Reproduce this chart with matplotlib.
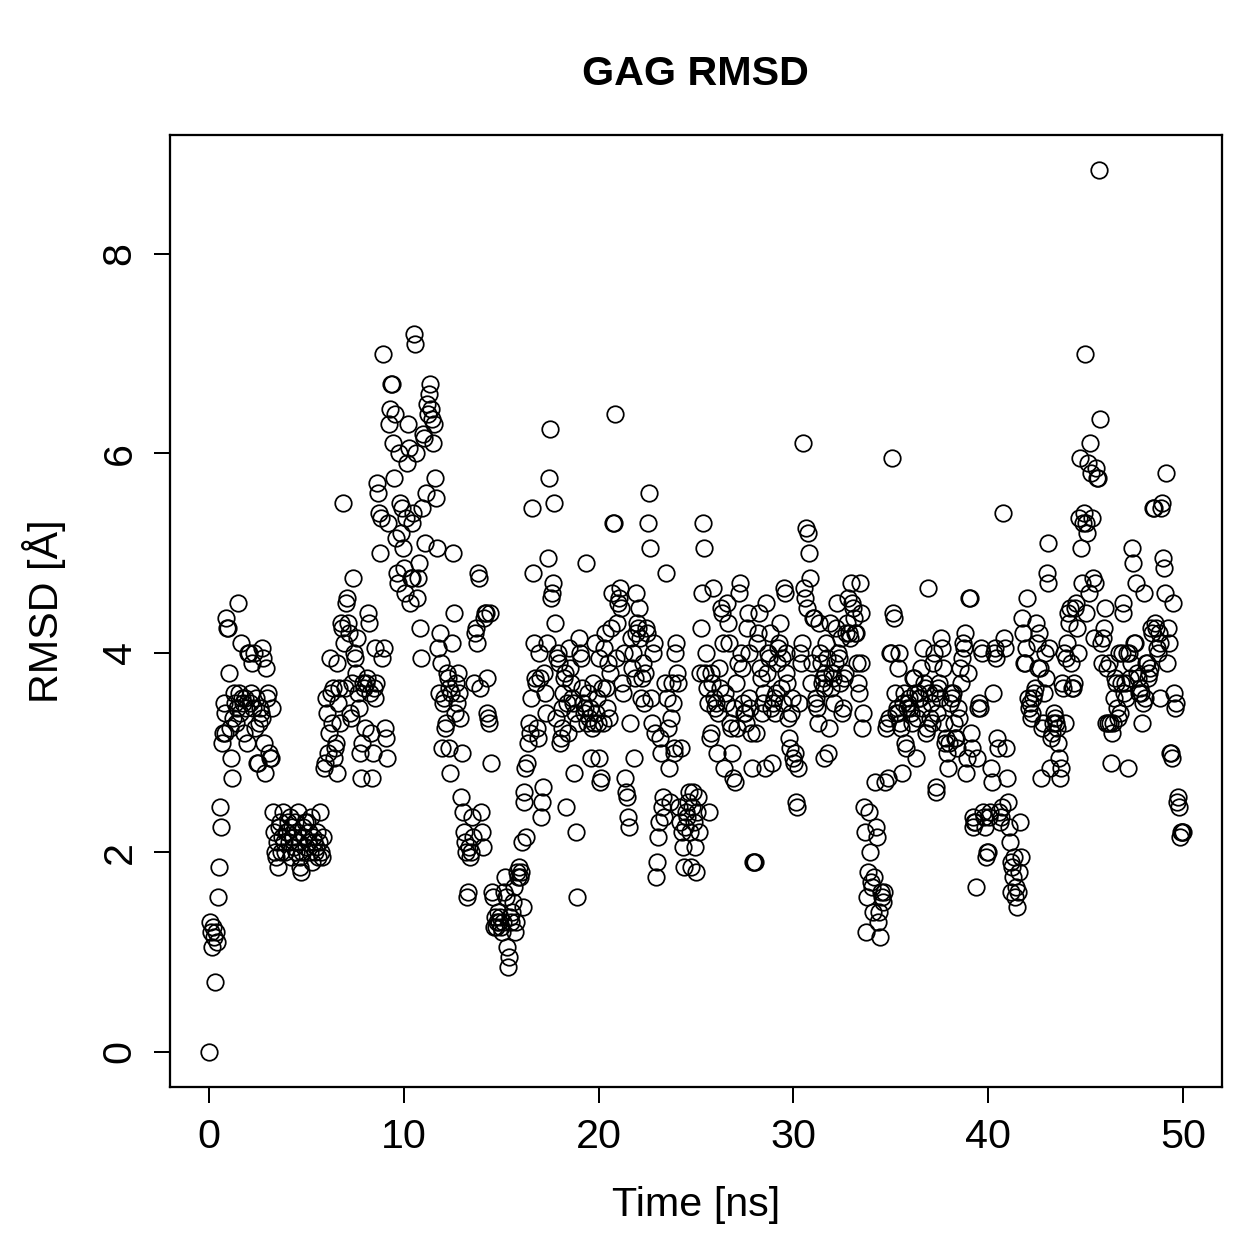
import numpy as np
import matplotlib.pyplot as plt

plt.rcParams['font.family'] = ['Liberation Sans', 'DejaVu Sans']

# RMSD values (Angstrom), one frame every 0.05 ns, grouped by 1 ns
rmsd_0_10 = [
    0.0, 1.3, 1.2, 1.05, 1.25, 1.15, 0.7, 1.2, 1.1, 1.55, 1.85, 2.45, 2.25, 3.1, 3.2, 3.5, 3.2, 3.4, 4.35, 4.25,
    4.25, 3.8, 3.25, 2.95, 2.75, 3.35, 3.6, 3.5, 3.3, 3.45, 4.5, 3.6, 3.4, 4.1, 3.55, 3.5, 3.2, 3.55, 3.45, 3.1,
    4.0, 4.0, 3.5, 3.6, 3.9, 3.45, 4.0, 3.25, 3.55, 2.9, 2.9, 3.3, 3.45, 3.4, 4.05, 3.35, 3.95, 3.1, 2.8, 3.85,
    3.55, 3.6, 3.0, 2.95, 2.95, 3.45, 2.4, 2.2, 2.0, 1.95, 2.1, 1.85, 2.25, 2.3, 2.0, 2.15, 2.4, 2.1, 2.0, 2.2,
    2.2, 2.3, 2.1, 2.35, 1.95, 2.25, 2.15, 2.05, 2.3, 2.0, 2.2, 2.4, 2.1, 1.85, 1.95, 1.8, 2.0, 2.25, 2.15, 2.3,
    2.05, 2.3, 2.1, 2.2, 2.0, 2.35, 1.9, 2.15, 2.1, 2.0, 2.05, 2.2, 1.95, 2.1, 2.4, 2.0, 1.95, 2.15, 2.85, 2.9,
    3.55, 3.4, 3.0, 3.2, 3.95, 3.6, 3.3, 3.65, 2.95, 3.05, 3.1, 2.8, 3.9, 3.5, 3.65, 3.3, 4.3, 4.25, 5.5, 4.1,
    3.65, 4.5, 4.55, 4.3, 4.2, 3.4, 3.35, 3.7, 4.75, 4.0, 3.95, 3.8, 4.15, 3.6, 3.45, 3.0, 2.75, 3.1, 3.7, 3.65,
    3.25, 3.7, 3.75, 4.4, 4.3, 3.6, 3.2, 2.75, 3.0, 3.65, 3.55, 4.05, 3.7, 5.7, 5.6, 5.4, 5.0, 5.35, 3.95, 7.0,
    4.05, 3.25, 3.15, 2.95, 5.3, 6.3, 6.45, 6.7, 6.7, 6.1, 5.75, 6.4, 5.15, 4.8, 4.7, 6.0, 5.5, 5.2, 5.45, 5.05,
]
rmsd_10_20 = [
    4.85, 4.6, 5.35, 5.9, 6.3, 6.05, 4.5, 4.75, 4.75, 5.3, 5.4, 7.2, 7.1, 6.0, 4.55, 4.75, 4.9, 4.25, 3.95, 5.45,
    6.2, 6.15, 5.1, 5.6, 6.5, 6.4, 6.6, 6.7, 6.45, 6.35, 6.1, 6.3, 5.75, 5.55, 5.05, 4.05, 3.6, 4.2, 3.9, 3.05,
    3.5, 3.55, 3.25, 3.3, 3.8, 3.75, 3.65, 3.05, 2.8, 3.6, 4.1, 5.0, 4.4, 3.4, 3.7, 3.5, 3.8, 3.6, 3.35, 2.55,
    3.0, 2.4, 2.2, 2.1, 2.0, 1.55, 1.6, 2.05, 1.95, 2.0, 2.35, 2.15, 3.7, 4.2, 4.25, 4.1, 4.8, 4.75, 3.65, 2.4,
    2.2, 2.05, 4.35, 4.4, 4.4, 3.75, 3.4, 3.35, 3.3, 4.4, 2.9, 1.6, 1.55, 1.25, 1.35, 1.25, 1.3, 1.4, 1.3, 1.35,
    1.25, 1.2, 1.3, 1.6, 1.75, 1.55, 1.05, 0.85, 0.95, 1.35, 1.3, 1.4, 1.5, 1.65, 1.2, 1.3, 1.8, 1.75, 1.85, 1.75,
    1.8, 2.1, 1.45, 2.5, 2.6, 2.85, 2.15, 2.9, 3.1, 3.3, 3.2, 3.55, 5.45, 4.8, 4.1, 3.75, 3.7, 3.25, 3.15, 4.0,
    3.75, 2.35, 2.5, 2.65, 3.8, 3.6, 3.4, 4.1, 4.95, 5.75, 6.25, 4.55, 4.6, 4.7, 5.5, 4.3, 3.35, 3.95, 4.0, 3.9,
    3.1, 3.15, 3.45, 3.25, 3.6, 3.75, 3.8, 2.45, 3.5, 3.2, 4.05, 3.85, 3.7, 3.55, 3.5, 2.8, 3.4, 2.2, 1.55, 3.3,
    4.15, 4.0, 3.95, 3.65, 3.5, 3.4, 3.45, 4.9, 3.3, 3.6, 3.35, 3.45, 2.95, 3.25, 3.7, 3.3, 4.1, 3.4, 3.55, 3.3,
]
rmsd_20_30 = [
    2.95, 3.95, 2.7, 2.75, 3.65, 3.3, 4.05, 4.2, 3.65, 3.45, 3.9, 3.35, 3.8, 4.25, 4.6, 5.3, 5.3, 6.4, 3.95, 4.3,
    4.5, 4.55, 4.65, 4.45, 3.7, 3.6, 4.0, 2.75, 2.6, 2.55, 2.35, 2.25, 3.3, 4.15, 3.85, 4.0, 2.95, 3.75, 4.2, 4.6,
    4.3, 4.25, 4.45, 4.15, 3.55, 3.75, 3.9, 3.5, 3.8, 4.25, 4.2, 5.3, 5.6, 5.05, 3.55, 3.3, 4.0, 4.1, 3.2, 1.75,
    1.9, 2.15, 2.3, 3.15, 3.0, 2.45, 2.55, 2.35, 3.7, 4.8, 3.55, 3.25, 2.85, 2.5, 3.35, 3.7, 3.5, 3.05, 3.0, 4.0,
    4.1, 3.8, 3.7, 2.45, 2.3, 3.05, 2.2, 2.05, 1.85, 2.25, 2.4, 2.35, 2.5, 2.6, 2.2, 1.85, 2.45, 2.6, 2.3, 2.05,
    1.8, 2.4, 2.55, 2.2, 3.8, 4.25, 4.6, 5.3, 5.05, 3.8, 4.0, 3.65, 3.5, 2.4, 3.15, 3.2, 3.8, 3.7, 4.65, 3.55,
    3.45, 3.5, 3.0, 3.4, 3.85, 3.65, 4.45, 4.4, 4.1, 2.85, 3.6, 3.5, 4.5, 4.3, 4.1, 3.3, 3.25, 3.0, 2.75, 3.45,
    2.7, 3.7, 3.25, 3.9, 4.6, 4.7, 4.0, 3.85, 3.5, 3.4, 3.4, 3.3, 4.25, 4.4, 4.0, 3.55, 3.45, 3.2, 2.85, 1.9,
    1.9, 1.9, 3.2, 4.1, 4.2, 4.4, 3.85, 3.75, 3.4, 3.5, 3.6, 2.85, 4.5, 3.8, 4.0, 3.95, 4.2, 3.45, 2.9, 3.5,
    3.55, 3.4, 3.6, 3.9, 4.05, 4.1, 4.3, 3.65, 3.95, 3.5, 4.65, 4.6, 4.0, 3.8, 3.7, 3.35, 3.15, 3.05, 3.4, 3.55,
]
rmsd_30_40 = [
    2.95, 2.9, 3.0, 2.5, 2.45, 2.85, 3.5, 4.0, 3.9, 4.1, 6.1, 4.65, 4.55, 5.25, 4.45, 5.2, 5.0, 4.75, 3.7, 3.9,
    4.35, 4.35, 3.5, 3.55, 3.45, 3.3, 4.3, 4.0, 3.9, 3.7, 3.75, 2.95, 3.65, 3.8, 4.1, 3.95, 3.0, 3.25, 4.3, 3.65,
    3.8, 3.75, 3.5, 3.9, 4.25, 4.5, 4.0, 3.95, 3.7, 4.15, 3.4, 3.45, 3.75, 3.8, 4.2, 4.3, 4.55, 4.2, 4.15, 4.7,
    4.5, 4.45, 4.35, 4.2, 4.2, 3.9, 3.7, 3.6, 4.7, 4.4, 3.9, 3.25, 3.4, 2.45, 2.2, 1.2, 1.55, 1.8, 2.4, 2.0,
    1.7, 1.65, 1.4, 1.75, 2.7, 2.25, 2.15, 1.3, 1.4, 1.15, 1.6, 1.55, 1.5, 1.6, 2.7, 3.25, 3.3, 2.75, 3.35, 4.0,
    4.0, 5.95, 4.4, 4.35, 3.6, 3.4, 3.45, 3.4, 3.85, 4.0, 3.3, 3.25, 2.8, 3.5, 3.6, 3.1, 3.05, 3.45, 3.5, 3.55,
    3.45, 3.4, 3.3, 3.75, 3.75, 3.6, 2.95, 3.35, 3.6, 3.55, 3.55, 3.85, 3.45, 4.05, 3.7, 3.65, 3.2, 3.25, 4.65, 3.6,
    3.35, 3.5, 3.3, 3.9, 4.0, 3.6, 2.65, 2.6, 3.4, 3.65, 3.7, 3.55, 4.15, 4.05, 3.85, 3.3, 3.1, 3.15, 3.0, 2.85,
    3.1, 3.5, 3.6, 3.55, 3.6, 3.3, 3.15, 3.15, 3.05, 3.45, 3.35, 3.85, 3.7, 3.95, 4.1, 4.05, 4.2, 2.8, 2.95, 3.8,
    4.55, 4.55, 3.2, 3.05, 2.35, 2.25, 2.3, 2.3, 1.65, 2.95, 3.45, 3.5, 3.45, 4.05, 4.0, 2.4, 2.35, 2.25, 1.95, 2.0,
]
rmsd_40_50 = [
    2.0, 2.35, 2.4, 2.85, 2.7, 3.6, 4.0, 4.05, 3.95, 3.15, 3.05, 2.4, 2.3, 2.35, 2.45, 5.4, 4.15, 4.05, 3.05, 2.75,
    2.5, 2.25, 2.1, 1.6, 1.9, 1.85, 1.75, 1.95, 1.55, 1.65, 1.45, 1.6, 1.8, 2.3, 1.95, 4.35, 4.2, 3.9, 3.9, 4.05,
    4.55, 3.55, 3.45, 3.5, 3.35, 3.4, 3.55, 3.6, 3.65, 4.3, 4.1, 3.85, 4.2, 3.85, 2.75, 3.25, 3.3, 3.6, 4.0, 3.75,
    4.8, 5.1, 4.7, 4.05, 2.85, 3.15, 3.2, 3.3, 3.4, 3.35, 3.3, 3.25, 3.1, 2.95, 2.75, 2.85, 3.7, 3.65, 4.0, 3.3,
    3.95, 4.1, 4.4, 4.3, 4.45, 3.9, 3.65, 3.65, 3.7, 4.45, 4.5, 4.25, 4.0, 5.35, 5.95, 5.05, 4.7, 5.3, 5.4, 7.0,
    4.4, 5.3, 5.2, 5.9, 4.6, 6.1, 5.8, 5.35, 4.75, 4.15, 4.7, 5.85, 5.75, 5.75, 8.84, 6.35, 4.1, 3.9, 4.15, 4.25,
    4.45, 3.3, 3.85, 3.3, 3.9, 3.3, 2.9, 3.2, 3.3, 3.55, 3.75, 3.7, 3.45, 3.35, 4.0, 3.4, 3.7, 4.0, 4.5, 4.4,
    3.6, 3.7, 3.55, 4.0, 2.85, 4.0, 3.75, 3.9, 5.05, 4.9, 4.1, 4.1, 4.7, 3.8, 3.75, 3.6, 3.65, 3.6, 3.3, 3.5,
    4.6, 3.55, 3.9, 3.9, 3.75, 3.8, 3.85, 4.25, 4.2, 5.45, 5.45, 4.3, 4.25, 4.05, 4.0, 4.2, 4.1, 3.55, 5.45, 5.5,
    4.95, 4.85, 4.6, 5.8, 3.9, 4.25, 4.1, 3.0, 3.0, 2.95, 4.5, 3.6, 3.45, 3.5, 2.5, 2.55, 2.45, 2.15, 2.2, 2.2,
    2.2,
]

rmsd = np.array(rmsd_0_10 + rmsd_10_20 + rmsd_20_30 + rmsd_30_40 + rmsd_40_50)
dt = 0.05  # ns per frame
time_ns = np.arange(len(rmsd)) * dt

fig = plt.figure(figsize=(1259 / 180, 1259 / 180), dpi=180)
ax = fig.add_axes([0.135, 0.1366, 0.8355, 0.7562])

ax.plot(time_ns, rmsd, 'o', mfc='none', mec='black', ms=6.6, mew=0.7)

ax.set_xlim(-2.0, 52.0)
ax.set_ylim(-0.354, 9.194)
ax.set_xticks([0, 10, 20, 30, 40, 50])
ax.set_yticks([0, 2, 4, 6, 8])
ax.tick_params(direction='out', length=6.5, width=0.8, labelsize=16.5, pad=6)
for lab in ax.get_yticklabels():
    lab.set_rotation(90)
    lab.set_va('center')
for s in ax.spines.values():
    s.set_linewidth(0.9)

ax.set_xlabel("Time [ns]", fontsize=16.5, labelpad=12)
ax.set_ylabel("RMSD [Å]", fontsize=16.5, labelpad=14)
ax.set_title("GAG RMSD", fontsize=16.5, fontweight='bold', pad=20)

fig.savefig("out.png", dpi=180)
